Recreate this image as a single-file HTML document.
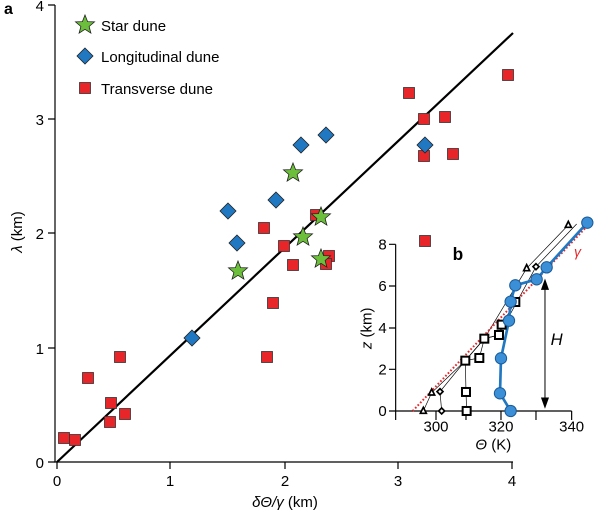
<!DOCTYPE html>
<html><head><style>body{margin:0;background:#fff}svg{display:block}text{font-family:"Liberation Sans",Arial,sans-serif}</style></head>
<body>
<svg width="600" height="516" viewBox="0 0 600 516" xmlns="http://www.w3.org/2000/svg">
<defs>
<polygon id="st" points="0,-10 2.6,-3.4 9.5,-3.1 4.1,1.5 5.9,8.1 0,4.3 -5.9,8.1 -4.1,1.5 -9.5,-3.1 -2.6,-3.4" fill="#6cbf3a" stroke="#222" stroke-width="0.8"/>
<polygon id="dm" points="0,-8 8,0 0,8 -8,0" fill="#1f78c1" stroke="#222" stroke-width="0.8"/>
<rect id="sq" x="-5.5" y="-5.5" width="11" height="11" fill="#e8262a" stroke="#333" stroke-width="0.8"/>
</defs>
<g stroke="#000" stroke-width="1.2" fill="none">
<path d="M55,5 V462 H513"/>
<path d="M48,5H55M48,119H55M48,233H55M48,348H55M48,462H55"/>
<path d="M57,462V469M170,462V469M285,462V469M398,462V469M512,462V469"/>
</g>
<g font-size="15" fill="#000">
<text x="44" y="11" text-anchor="end">4</text>
<text x="44" y="125" text-anchor="end">3</text>
<text x="44" y="239" text-anchor="end">2</text>
<text x="44" y="354" text-anchor="end">1</text>
<text x="44" y="468" text-anchor="end">0</text>
<text x="57" y="486" text-anchor="middle">0</text>
<text x="170" y="486" text-anchor="middle">1</text>
<text x="285" y="486" text-anchor="middle">2</text>
<text x="398" y="486" text-anchor="middle">3</text>
<text x="512" y="486" text-anchor="middle">4</text>
<text x="285" y="507" text-anchor="middle"><tspan font-style="italic">δΘ/γ</tspan> (km)</text>
<text transform="translate(22,232) rotate(-90)" text-anchor="middle"><tspan font-style="italic">λ</tspan> (km)</text>
<text x="4" y="14" font-weight="bold" font-size="16">a</text>
</g>
<line x1="57" y1="462" x2="513" y2="33" stroke="#000" stroke-width="2.2"/>
<use href="#st" x="85" y="25"/><text x="101" y="31" font-size="15">Star dune</text>
<use href="#dm" x="85" y="56"/><text x="101" y="62" font-size="15">Longitudinal dune</text>
<use href="#sq" x="85" y="88"/><text x="101" y="94" font-size="15">Transverse dune</text>
<g>
<use href="#sq" x="409" y="93"/><use href="#sq" x="508" y="75"/><use href="#sq" x="424" y="119"/><use href="#sq" x="445" y="117"/>
<use href="#sq" x="424" y="156"/><use href="#sq" x="453" y="154"/>
<use href="#sq" x="316" y="215"/><use href="#sq" x="264" y="228"/><use href="#sq" x="284" y="246"/><use href="#sq" x="293" y="265"/>
<use href="#sq" x="329" y="256"/><use href="#sq" x="326" y="264"/><use href="#sq" x="273" y="303"/><use href="#sq" x="267" y="357"/>
<use href="#sq" x="120" y="357"/><use href="#sq" x="88" y="378"/><use href="#sq" x="125" y="414"/><use href="#sq" x="111" y="403"/>
<use href="#sq" x="110" y="422"/><use href="#sq" x="64" y="438"/><use href="#sq" x="75" y="440"/>
</g>
<g>
<use href="#dm" x="326" y="135"/><use href="#dm" x="301" y="145"/><use href="#dm" x="276" y="200"/><use href="#dm" x="228" y="211"/>
<use href="#dm" x="237" y="243"/><use href="#dm" x="192" y="338"/><use href="#dm" x="425" y="145"/>
</g>
<g>
<use href="#st" x="293" y="173"/><use href="#st" x="321" y="217"/><use href="#st" x="303" y="237"/><use href="#st" x="238" y="271"/><use href="#st" x="321" y="259"/>
</g>
<g transform="translate(360,210) scale(0.3333)">
<g stroke="#000" stroke-width="3.5" fill="none">
<path d="M107,103V630M107,603H635"/>
<path d="M87,103H107M87,228H107M87,354H107M87,478H107M87,603H107"/>
<path d="M228,603V630M318,603V630M423,603V630M528,603V630M635,603V630"/>
</g>
<g font-size="45" fill="#000">
<text x="80" y="118" text-anchor="end">8</text>
<text x="80" y="243" text-anchor="end">6</text>
<text x="80" y="369" text-anchor="end">4</text>
<text x="80" y="493" text-anchor="end">2</text>
<text x="80" y="618" text-anchor="end">0</text>
<text x="228" y="665" text-anchor="middle">300</text>
<text x="423" y="665" text-anchor="middle">320</text>
<text x="635" y="665" text-anchor="middle">340</text>
<text x="400" y="718" text-anchor="middle"><tspan font-style="italic">Θ</tspan> (K)</text>
<text transform="translate(35,355) rotate(-90)" text-anchor="middle"><tspan font-style="italic">z</tspan> (km)</text>
<text x="278" y="150" font-weight="bold" font-size="52">b</text>
<text x="572" y="405" font-style="italic" font-size="50">H</text>
<text x="642" y="140" font-style="italic" fill="#e8262a" font-size="42">γ</text>
</g>
<g stroke="#000" stroke-width="2" fill="none">
<polyline points="190,603 215,548 316,452 373,386 500,175 625,45"/>
<polyline points="245,603 240,545 316,452 373,386 417,375 528,170 650,42"/>
<polyline points="320,603 318,546 316,452 358,444 373,386 417,375 425,344 466,276"/>
</g>
<line x1="158" y1="603" x2="680" y2="50" stroke="#e8262a" stroke-width="6" stroke-dasharray="5,6"/>
<polyline points="452,603 420,550 423,445 447,332 452,275 466,226 530,208 560,172 682,38" fill="none" stroke="#1f78c1" stroke-width="8"/>
<g fill="#fff" stroke="#000" stroke-width="6">
<rect x="308" y="591" width="24" height="24"/><rect x="306" y="534" width="24" height="24"/><rect x="304" y="440" width="24" height="24"/>
<rect x="346" y="432" width="24" height="24"/><rect x="361" y="374" width="24" height="24"/><rect x="405" y="363" width="24" height="24"/>
<rect x="413" y="332" width="24" height="24"/><rect x="454" y="264" width="24" height="24"/>
</g>
<g fill="#fff" stroke="#000" stroke-width="5">
<polygon points="190,592 199,610 181,610"/><polygon points="215,537 224,555 206,555"/><polygon points="500,164 509,182 491,182"/><polygon points="625,34 634,52 616,52"/>
<polygon points="245,594 254,603 245,612 236,603"/><polygon points="240,536 249,545 240,554 231,545"/><polygon points="528,161 537,170 528,179 519,170"/>
</g>
<g fill="#3a8fd6" stroke="#1a5a99" stroke-width="3">
<circle cx="452" cy="603" r="17"/><circle cx="420" cy="550" r="17"/><circle cx="423" cy="445" r="17"/><circle cx="447" cy="332" r="17"/>
<circle cx="452" cy="275" r="17"/><circle cx="466" cy="226" r="17"/><circle cx="530" cy="208" r="17"/><circle cx="560" cy="172" r="17"/><circle cx="682" cy="38" r="17"/>
</g>
<g stroke="#000" stroke-width="3" fill="#000">
<line x1="555" y1="225" x2="555" y2="578"/>
<polygon points="555,210 545,238 565,238"/><polygon points="555,592 545,564 565,564"/>
</g>
</g>
<use href="#sq" x="425" y="241"/>
</svg>
</body></html>
